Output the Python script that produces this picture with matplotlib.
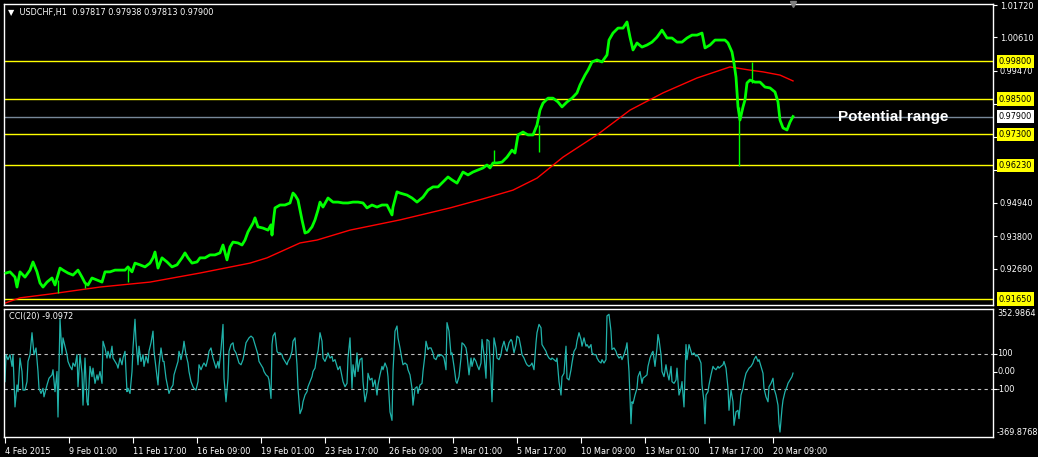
import matplotlib
matplotlib.use('Agg')
import matplotlib.pyplot as plt
from matplotlib.transforms import blended_transform_factory

# USDCHF H1, one bar per hour, bar 0 = 4 Feb 2015
price_bar = [1, 5, 10, 12, 15, 20, 25, 28, 32, 35, 38, 42, 47, 50, 55, 58, 63, 68, 73, 77,
             80, 83, 87, 92, 97, 100, 105, 110, 115, 120, 123, 127, 130, 135, 140, 145, 148,
             150, 153, 157, 162, 167, 172, 177, 180, 183, 187, 192, 195, 200, 205, 210, 215,
             218, 222, 225, 228, 233, 237, 240, 243, 248, 250, 253, 258, 263, 266, 267, 269,
             270, 275, 280, 285, 288, 290, 293, 297, 300, 303, 307, 310, 313, 315, 318, 323,
             328, 333, 338, 343, 348, 353, 358, 362, 367, 372, 377, 382, 387, 388, 392, 395,
             402, 407, 412, 418, 423, 428, 433, 438, 443, 447, 452, 458, 463, 468, 473, 478,
             482, 485, 488, 492, 497, 502, 507, 510, 513, 518, 523, 528, 532, 535, 538, 543,
             548, 553, 557, 562, 567, 572, 575, 580, 583, 587, 592, 597, 602, 604, 608, 613,
             618, 622, 625, 628, 632, 637, 642, 647, 652, 657, 662, 667, 672, 677, 682, 687,
             692, 697, 700, 705, 710, 715, 720, 723, 727, 729, 731, 733, 735, 738, 740, 742,
             745, 750, 755, 760, 765, 770, 773, 775, 778, 782, 785, 788]
price_val = [0.9254, 0.9258, 0.9240, 0.9206, 0.9258, 0.9240, 0.9264, 0.9292, 0.9258, 0.9220,
             0.9206, 0.9223, 0.9237, 0.9213, 0.9271, 0.9264, 0.9254, 0.9247, 0.9264, 0.9240,
             0.9220, 0.9213, 0.9237, 0.9230, 0.9223, 0.9258, 0.9258, 0.9264, 0.9264, 0.9264,
             0.9275, 0.9258, 0.9288, 0.9282, 0.9275, 0.9288, 0.9306, 0.9326, 0.9271, 0.9306,
             0.9292, 0.9275, 0.9282, 0.9306, 0.9323, 0.9306, 0.9288, 0.9292, 0.9306, 0.9306,
             0.9316, 0.9316, 0.9323, 0.9350, 0.9299, 0.9343, 0.9360, 0.9357, 0.9350, 0.9367,
             0.9395, 0.9425, 0.9443, 0.9412, 0.9408, 0.9401, 0.9419, 0.9384, 0.9450, 0.9477,
             0.9487, 0.9487, 0.9494, 0.9528, 0.9521, 0.9504, 0.9436, 0.9391, 0.9395, 0.9412,
             0.9436, 0.9470, 0.9497, 0.9480, 0.9511, 0.9497, 0.9497, 0.9494, 0.9494, 0.9497,
             0.9497, 0.9494, 0.9477, 0.9487, 0.9480, 0.9487, 0.9487, 0.9453, 0.9480, 0.9532,
             0.9528, 0.9521, 0.9511, 0.9497, 0.9514, 0.9538, 0.9549, 0.9549, 0.9566, 0.9583,
             0.9573, 0.9562, 0.9600, 0.9590, 0.9600, 0.9607, 0.9614, 0.9624, 0.9614, 0.9631,
             0.9631, 0.9634, 0.9651, 0.9675, 0.9665, 0.9727, 0.9737, 0.9727, 0.9727, 0.9761,
             0.9812, 0.9836, 0.9853, 0.9853, 0.9840, 0.9823, 0.9840, 0.9853, 0.9871, 0.9898,
             0.9932, 0.9949, 0.9977, 0.9984, 0.9977, 1.0001, 1.0052, 1.0076, 1.0093, 1.0093,
             1.0114, 1.0062, 1.0018, 1.0042, 1.0028, 1.0035, 1.0045, 1.0062, 1.0086, 1.0059,
             1.0059, 1.0045, 1.0045, 1.0059, 1.0069, 1.0069, 1.0076, 1.0025, 1.0035, 1.0052,
             1.0052, 1.0052, 1.0042, 1.0011, 0.9973, 0.9925, 0.9823, 0.9778, 0.9823, 0.9847,
             0.9905, 0.9915, 0.9908, 0.9908, 0.9891, 0.9888, 0.9874, 0.9840, 0.9778, 0.9751,
             0.9744, 0.9771, 0.9790]

# long single-bar wicks
wick_bar = [53, 80, 123, 489, 534, 734, 747]
wick_from = [0.9230, 0.9220, 0.9275, 0.9631, 0.9761, 0.9823, 0.9905]
wick_to = [0.9186, 0.9203, 0.9223, 0.9675, 0.9669, 0.9621, 0.9977]

# red moving average
ma_bar = [0, 15, 45, 95, 145, 195, 245, 262, 295, 312, 345, 395, 445, 478, 508, 532, 558,
          592, 625, 658, 692, 725, 745, 758, 775, 788]
ma_val = [0.9151, 0.9169, 0.9182, 0.9206, 0.9223, 0.9254, 0.9288, 0.9306, 0.9357, 0.9367,
          0.9401, 0.9436, 0.9477, 0.9508, 0.9538, 0.9579, 0.9651, 0.9727, 0.9812, 0.9871,
          0.9922, 0.9960, 0.9949, 0.9943, 0.9932, 0.9912]

# CCI(20)
cci_pts = [(0, -57), (1, 95), (3, 67), (5, 95), (7, 29), (8, 95), (10, -200), (12, -76), (13, -114),
           (15, 76), (17, 0), (18, -105), (20, -105), (22, -57), (23, 57), (25, 95), (27, 219),
           (29, 95), (31, 133), (33, 0), (34, -95), (36, -124), (38, -95), (39, -143), (42, -76),
           (44, -38), (47, -19), (48, 10), (50, -114), (52, 0), (53, -257), (55, 295), (57, 95),
           (58, 190), (60, 143), (62, 95), (63, 57), (65, 29), (67, 10), (68, 48), (70, 29),
           (72, 95), (73, -86), (75, 95), (77, -10), (78, -190), (80, 76), (82, -171), (83, -190),
           (85, 29), (87, -29), (88, 19), (90, -67), (92, -19), (93, -48), (95, 0), (97, -67),
           (98, 171), (100, 133), (102, 76), (103, 114), (105, 76), (107, 143), (108, 76),
           (110, 57), (112, 38), (113, 19), (115, 76), (117, 38), (118, 76), (120, 114),
           (122, -114), (123, -95), (125, -124), (127, 0), (128, 133), (130, 295), (131, 171),
           (133, 38), (134, 143), (136, 57), (138, 95), (139, 29), (141, 86), (143, 48),
           (144, 114), (146, 162), (148, 228), (149, 114), (151, 19), (153, -76), (154, 29),
           (156, 133), (158, 57), (159, 57), (161, -38), (163, -95), (164, -124), (166, -95),
           (168, -76), (169, -19), (171, 19), (173, 57), (174, 114), (176, 67), (178, 124),
           (179, 171), (181, 95), (183, 48), (184, 0), (186, -57), (188, -86), (189, -95),
           (191, -105), (193, -57), (194, 38), (196, 10), (198, 38), (199, 48), (201, 29),
           (203, 76), (204, 114), (206, 133), (208, 76), (209, 57), (211, 19), (213, 57),
           (214, 19), (216, 124), (218, 266), (219, -38), (221, -171), (223, -38), (224, 114),
           (226, 152), (228, 162), (229, 124), (231, 105), (233, 67), (234, 48), (236, 38),
           (238, 67), (239, 95), (241, 162), (243, 181), (244, 190), (246, 200), (248, 190),
           (249, 171), (251, 133), (253, 95), (254, 57), (256, 38), (258, 19), (259, 0),
           (261, -19), (263, -29), (264, -48), (266, -152), (267, 152), (268, 200), (270, 219),
           (272, 114), (273, 105), (275, 105), (277, 95), (278, 76), (280, 57), (282, 38),
           (283, 57), (285, 76), (287, 114), (288, 171), (290, 190), (292, 38), (293, -95),
           (295, -238), (297, -209), (298, -171), (300, -133), (302, -114), (303, -86),
           (305, -57), (307, -29), (308, 0), (310, 19), (312, 95), (313, 114), (315, 219),
           (317, 171), (318, 76), (320, 57), (322, 86), (323, 105), (325, 76), (327, 86),
           (328, 57), (330, 67), (332, 29), (333, 10), (335, 29), (337, -29), (338, -57),
           (340, -86), (342, -67), (343, 76), (345, 190), (347, -95), (348, 38), (350, -29),
           (352, 105), (353, 0), (355, 67), (357, 76), (358, -57), (360, -171), (362, -114),
           (363, -10), (365, -48), (367, -38), (368, -86), (370, -48), (372, -133), (373, -76),
           (375, -19), (377, 29), (378, 10), (380, 48), (382, 19), (383, -29), (385, -228),
           (387, -276), (388, 0), (390, 228), (392, 257), (393, 190), (395, 133),
           (397, 67), (398, 38), (400, 48), (402, 38), (403, 10), (405, -19), (407, -95),
           (408, -190), (410, -95), (412, -86), (413, -124), (415, -76), (417, -67), (418, 0),
           (420, 95), (421, 171), (423, 124), (424, 133), (426, 133), (428, 105), (429, 76),
           (431, 67), (433, 95), (434, 86), (436, 95), (438, 86), (439, 76), (441, 10),
           (442, 276), (444, 228), (446, 95), (447, 105), (449, 29), (451, -57), (452, -67),
           (454, -29), (456, 76), (457, 162), (459, 152), (461, 133), (462, 95), (464, -19),
           (466, 76), (467, 29), (469, 76), (471, 57), (472, 38), (474, 10), (476, 48),
           (477, 181), (479, 95), (481, -38), (482, 181), (484, 171), (486, -38), (487, -171),
           (489, 190), (491, 133), (492, 76), (494, 67), (496, 95), (497, 133), (499, 171),
           (501, 124), (502, 114), (504, 162), (506, 181), (507, 171), (509, 105), (511, 152),
           (512, 200), (514, 190), (516, 133), (517, 95), (519, 76), (521, 48), (522, 38),
           (524, 29), (526, 38), (527, 48), (529, 10), (531, 162), (532, 219), (534, 266),
           (536, 247), (537, 152), (539, 133), (541, 114), (542, 95), (544, 76), (546, 67),
           (547, 76), (549, 67), (551, 57), (552, 76), (554, -57), (556, -133), (557, -29),
           (559, -10), (561, 143), (562, -38), (564, -48), (566, 10), (567, 48), (569, 114),
           (571, 133), (572, 171), (574, 219), (576, 181), (577, 143), (579, 190), (581, 143),
           (582, 152), (584, 133), (586, 152), (587, 105), (589, 95), (591, 95), (592, 76),
           (594, 57), (596, 48), (597, 67), (599, 48), (601, 67), (602, 314), (604, 323),
           (606, 228), (607, 124), (609, 133), (611, 114), (612, 95), (614, 76), (616, 86),
           (617, 67), (619, 95), (621, 133), (622, 162), (624, 0), (625, -152), (626, -295),
           (627, -171), (628, -181), (630, -133), (632, -95), (633, -29), (635, 0), (637, -67),
           (638, -38), (640, -29), (642, -19), (643, 29), (645, 76), (647, 105), (648, 114),
           (650, 29), (652, 133), (653, 209), (654, 181), (656, 95), (657, 0), (659, -29),
           (661, 38), (662, 0), (664, -48), (666, 29), (667, -57), (669, -67), (671, -48),
           (672, 19), (674, -133), (676, -95), (677, -57), (679, -200), (681, 152), (682, 67),
           (684, 152), (686, 114), (687, 95), (689, 105), (691, 86), (692, 95), (694, 76),
           (696, 48), (697, -76), (699, -171), (700, -295), (701, -133), (703, -114),
           (704, -76), (706, -19), (708, 29), (709, 19), (711, 10), (713, 29), (714, 19),
           (716, 29), (718, 38), (719, 57), (721, 19), (723, -95), (724, -219), (726, -105),
           (728, -171), (729, -304), (731, -228), (733, -219), (734, -266), (736, -133),
           (738, -95), (739, -57), (741, -10), (743, 10), (744, 19), (746, 29), (748, 48),
           (749, 67), (751, 86), (753, 57), (754, 67), (756, 29), (758, -10), (759, -95),
           (761, -143), (763, -171), (764, -86), (766, -67), (768, -38), (769, -95),
           (771, -133), (773, -190), (774, -295), (775, -342), (777, -209), (778, -162),
           (780, -114), (782, -86), (783, -67), (785, -48), (787, -29), (788, -9.0972)]
cci_bar = [p[0] for p in cci_pts]
cci_val = [p[1] for p in cci_pts]
cci_max, cci_min = 352.9864, -369.8768

levels = [0.99800, 0.98500, 0.97300, 0.96230, 0.91650]
last_price = 0.97900
price_ticks = [1.01720, 1.00610, 0.99470, 0.98330, 0.97200, 0.96070, 0.94940, 0.93800, 0.92690]
hidden_ticks = [0.98330, 0.97200, 0.96070]   # covered by the level labels
date_labels = ['4 Feb 2015', '9 Feb 01:00', '11 Feb 17:00', '16 Feb 09:00', '19 Feb 01:00',
               '23 Feb 17:00', '26 Feb 09:00', '3 Mar 01:00', '5 Mar 17:00', '10 Mar 09:00',
               '13 Mar 01:00', '17 Mar 17:00', '20 Mar 09:00']
date_step = 64

W, H = 1038, 457
FS = 5.9
fig = plt.figure(figsize=(W / 100, H / 100), dpi=100, facecolor='black')


def px_box(l, t, r, b):
    return [l / W, 1 - b / H, (r - l) / W, (b - t) / H]


ax = fig.add_axes(px_box(4, 4, 993, 305))
ax2 = fig.add_axes(px_box(4, 309, 993, 437))
for a in (ax, ax2):
    a.set_facecolor('black')
    for s in a.spines.values():
        s.set_color('white')
        s.set_linewidth(1)
    a.set_xlim(-1, 988)

# ---- price panel
ax.set_ylim(0.91445, 1.01755)
for lv in levels:
    ax.axhline(lv, color='#ffff00', lw=1, zorder=1)
ax.axhline(last_price, color='#778899', lw=1, zorder=1)
ax.plot(ma_bar, ma_val, color='#ff0000', lw=1, zorder=2)
ax.vlines(wick_bar, wick_from, wick_to, color='#00ff00', lw=1, zorder=3)
ax.plot(price_bar, price_val, color='#00ff00', lw=2.0, zorder=3)
ax.set_xticks([])
ax.yaxis.tick_right()
ax.set_yticks(price_ticks)
ax.set_yticklabels(['' if t in hidden_ticks else f'{t:.5f}' for t in price_ticks])
ax.tick_params(axis='y', colors='white', labelsize=FS, length=3, pad=2)

tr = blended_transform_factory(ax.transAxes, ax.transData)
for lv in levels:
    ax.annotate(f'{lv:.5f}', xy=(1, lv), xycoords=tr, xytext=(4, 0), textcoords='offset points',
                ha='left', va='center', fontsize=FS, color='black', zorder=10, annotation_clip=False,
                bbox=dict(boxstyle='square,pad=0.25', fc='#ffff00', ec='none'))
ax.annotate(f'{last_price:.5f}', xy=(1, last_price), xycoords=tr, xytext=(4, 0),
            textcoords='offset points', ha='left', va='center', fontsize=FS, color='black',
            zorder=10, annotation_clip=False,
            bbox=dict(boxstyle='square,pad=0.25', fc='white', ec='none'))

ax.text(833, last_price, 'Potential range', color='white', fontsize=11, fontweight='bold',
        family=['Liberation Sans', 'DejaVu Sans'], ha='left', va='center', zorder=6)
ax.plot([788], [1.0176], marker='v', color='#808080', ms=5, clip_on=False, zorder=6)

fig.text(8 / W, 1 - 12 / H, '\u25bc  USDCHF,H1  0.97817 0.97938 0.97813 0.97900',
         color='white', fontsize=FS, va='center', ha='left')

# ---- CCI panel
ax2.set_ylim(cci_min, cci_max)
for lv in (100, -100):
    ax2.axhline(lv, color='#c0c0c0', lw=0.8, ls=(0, (3, 3)), zorder=1)
ax2.plot(cci_bar, cci_val, color='#20b2aa', lw=0.9, zorder=2)
ax2.yaxis.tick_right()
ax2.set_yticks([100, 0, -100])
ax2.set_yticklabels(['', '', ''])
ax2.tick_params(axis='y', colors='white', length=3)
tr2 = blended_transform_factory(ax2.transAxes, ax2.transData)
for v, txt, va in [(cci_max, '352.9864', 'top'), (100, '100', 'center'), (0, '0.00', 'center'),
                   (-100, '-100', 'center'), (cci_min, '-369.8768', 'bottom')]:
    ax2.text(1 + 4 / 989, v, txt, transform=tr2, ha='left', va=va, fontsize=FS, color='white',
             clip_on=False)
fig.text(9 / W, 1 - 317 / H, 'CCI(20) -9.0972', color='white', fontsize=FS, va='center')

ax2.set_xticks([i * date_step for i in range(len(date_labels))])
ax2.set_xticklabels(date_labels, ha='left')
ax2.tick_params(axis='x', colors='white', labelsize=FS, length=4, pad=3)

fig.savefig('out.png', dpi=100, facecolor='black')
